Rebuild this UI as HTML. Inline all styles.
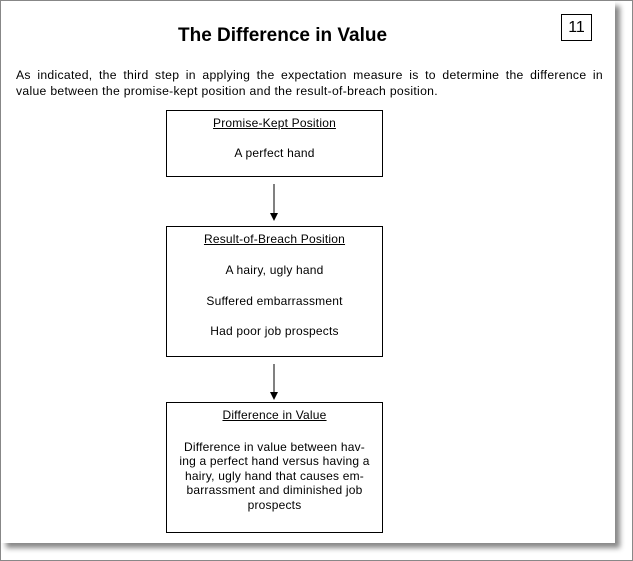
<!DOCTYPE html>
<html><head><style>
body{margin:0;width:633px;height:561px;background:#fff;position:relative;overflow:hidden;font-family:"Liberation Sans",sans-serif;color:#000}
.frame{position:absolute;left:0;top:0;width:631px;height:559px;border:1px solid #888}
.page{position:absolute;left:1px;top:1px;width:614px;height:542px;background:#fff;box-shadow:5px 5px 5px #888}
.abs{position:absolute}
.box{position:absolute;left:166px;width:215px;border:1px solid #000;text-align:center;font-size:12px;background:#fff;letter-spacing:0.2px}
</style></head><body>
<div class="frame"></div>
<div class="page"></div>
<div class="abs" style="left:178px;top:25px;font-size:19px;font-weight:bold">The Difference in Value</div>
<div class="abs" style="left:561px;top:14px;width:29px;height:25px;border:1px solid #000;font-size:16px;text-align:center;line-height:25px">11</div>
<div class="abs" style="left:16px;top:67px;width:587px;font-size:12.2px;line-height:16px;text-align:justify;text-align-last:justify;letter-spacing:0.3px">As indicated, the third step in applying the expectation measure is to determine the difference in</div>
<div class="abs" style="left:16px;top:83px;width:587px;font-size:12.2px;line-height:16px;letter-spacing:0.3px">value between the promise-kept position and the result-of-breach position.</div>
<div class="box" style="top:110px;height:65px"><div style="margin-top:5px;text-decoration:underline">Promise-Kept Position</div><div style="margin-top:16px">A perfect hand</div></div>
<div class="box" style="top:226px;height:129px;line-height:15px"><div style="margin-top:5px;text-decoration:underline">Result-of-Breach Position</div><div style="margin-top:16px">A hairy, ugly hand</div><div style="margin-top:16px">Suffered embarrassment</div><div style="margin-top:15px">Had poor job prospects</div></div>
<div class="box" style="top:402px;height:129px;line-height:14.5px"><div style="margin-top:5px;text-decoration:underline">Difference in Value</div><div style="margin-top:17px;white-space:nowrap">Difference in value between hav-<br>ing a perfect hand versus having a<br>hairy, ugly hand that causes em-<br>barrassment and diminished job<br>prospects</div></div>
<svg class="abs" style="left:0;top:0" width="633" height="561">
<line x1="274" y1="184" x2="274" y2="214" stroke="#000"/><polygon points="270,213 278,213 274,221" fill="#000"/>
<line x1="274" y1="364" x2="274" y2="393" stroke="#000"/><polygon points="270,392 278,392 274,400" fill="#000"/>
</svg>
</body></html>
